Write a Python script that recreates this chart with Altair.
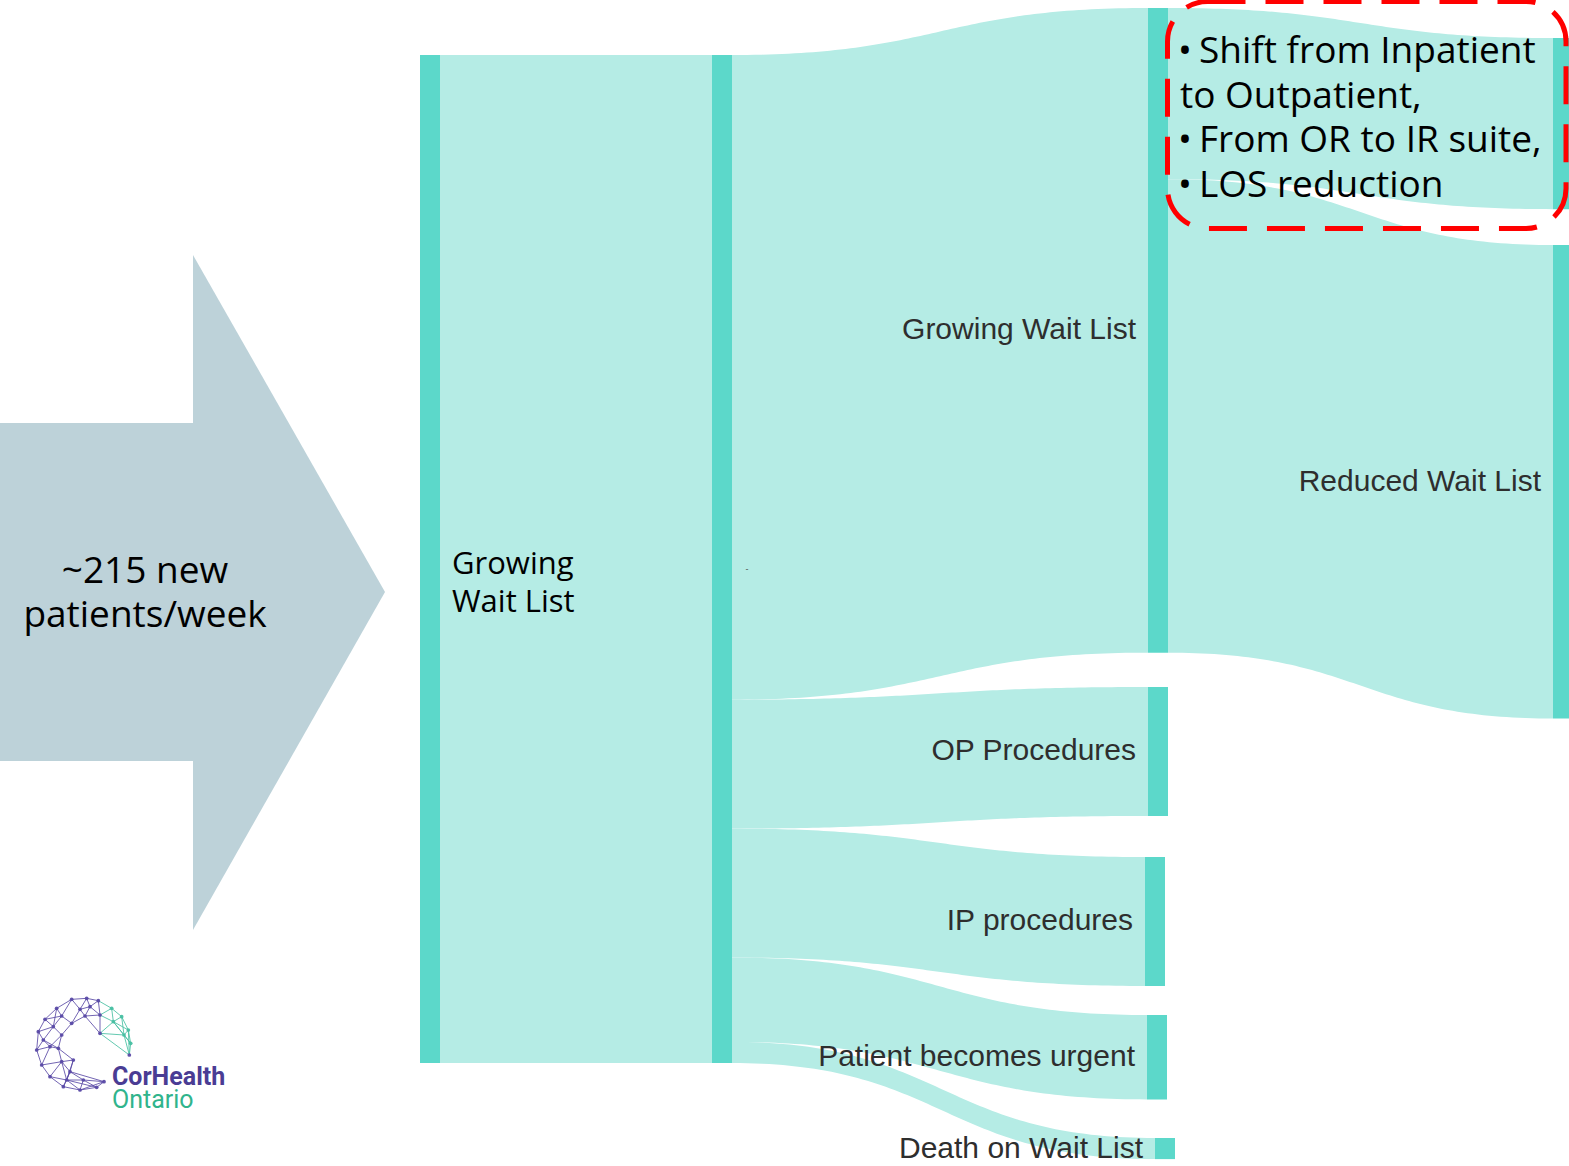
import altair as alt
import numpy as np
import pandas as pd

# ---------------- chart values ----------------
node_labels = ["Growing Wait List", "", "Growing Wait List", "OP Procedures",
               "IP procedures", "Patient becomes urgent", "Death on Wait List",
               "", "Reduced Wait List"]
node_column = [0, 1, 2, 2, 2, 2, 2, 3, 3]

link_source = [0, 1, 1, 1, 1, 1, 2, 2]
link_target = [1, 2, 3, 4, 5, 6, 7, 8]
link_value = [215, 137.5, 27.5, 27.5, 18, 4.5, 36.5, 101]   # patients / week

callout_lines = ["Shift from Inpatient", "to Outpatient,", "From OR to IR suite,", "LOS reduction"]
callout_bullet = [True, False, True, True]
arrow_text = [f"~{link_value[0]:g} new", "patients/week"]
start_label = ["Growing", "Wait List"]
logo_words = ["CorHealth", "Ontario"]

# ---------------- layout & style (pixels) ----------------
W, H = 1569, 1166
PX = 1008 / 215                      # pixels per patient/week (vertical scale)


def py(p):
    return p / PX                    # pixel offset -> vertical scale units


node_left_px = [420, 712, 1148, 1148, 1145, 1147, 1155, 1553, 1553]
node_top_px = [55, 55, 8, 687, 857, 1015, 1138, 38, 245]
NODE_W = 20
LABEL_GAP = 12

NODE_COLOR = "#5CD8CA"
LINK_COLOR = "#B5ECE5"
ARROW_COLOR = "#BDD2D9"
LABEL_COLOR = "#2E2E2E"

arrow_shaft = dict(x=[0, 193], y=[423, 761])
arrow_head = dict(x=[193, 385], top=[255, 592], bottom=[930, 592])

logo_pts_3x = [(215, 58), (260, 55), (295, 62), (335, 85), (365, 110), (385, 150), (392, 190),
               (388, 225), (170, 85), (135, 118), (115, 155), (110, 210), (125, 255),
               (150, 290), (190, 320), (240, 330), (290, 322), (312, 305), (372, 165),
               (340, 125), (300, 105), (255, 108), (215, 130), (185, 165), (175, 205),
               (185, 245), (210, 275), (250, 300), (240, 88), (185, 108), (300, 160),
               (150, 200), (220, 240), (160, 140), (130, 180), (200, 300), (270, 80)]

xs = alt.Scale(domain=[0, W], nice=False, zero=False)
ys = alt.Scale(domain=[0, H / PX], nice=False, zero=False, reverse=True)


def X(f):
    return alt.X(f"{f}:Q", scale=xs, axis=None)


def Y(f):
    return alt.Y(f"{f}:Q", scale=ys, axis=None)


# ---------------- sankey layout ----------------
n = len(node_labels)
node_val = []
for i in range(n):
    vin = sum(v for t, v in zip(link_target, link_value) if t == i)
    vout = sum(v for s, v in zip(link_source, link_value) if s == i)
    node_val.append(max(vin, vout))
node_top = [py(p) for p in node_top_px]

out_off = [0.0] * n
in_off = [0.0] * n
ts = np.linspace(0, 1, 81)
link_rows = []
for k, (s, t, v) in enumerate(zip(link_source, link_target, link_value)):
    x0 = node_left_px[s] + NODE_W
    x1 = node_left_px[t]
    y0 = node_top[s] + out_off[s]
    y1 = node_top[t] + in_off[t]
    out_off[s] += v
    in_off[t] += v
    for tt in ts:
        xx = x0 + (x1 - x0) * (1.5 * tt * (1 - tt) + tt ** 3)
        yy = y0 + (y1 - y0) * (3 * tt ** 2 - 2 * tt ** 3)
        link_rows.append(dict(link=k, x=xx, y=yy, y2=yy + v))
links_df = pd.DataFrame(link_rows)

nodes_df = pd.DataFrame(dict(
    x=node_left_px, x2=[l + NODE_W for l in node_left_px],
    y=node_top, y2=[t + v for t, v in zip(node_top, node_val)],
    label=node_labels, col=node_column))

labels_df = nodes_df[(nodes_df.col >= 2) & (nodes_df.label != "")].copy()
labels_df["lx"] = labels_df.x - LABEL_GAP
labels_df["ly"] = (labels_df.y + labels_df.y2) / 2

# ---------------- layers ----------------
links = alt.Chart(links_df).mark_area(color=LINK_COLOR, clip=True).encode(
    x=X("x"), y=Y("y"), y2="y2", detail="link:N")

nodes = alt.Chart(nodes_df).mark_rect(color=NODE_COLOR, clip=True).encode(
    x=X("x"), x2="x2", y=Y("y"), y2="y2")

labels = alt.Chart(labels_df).mark_text(
    align="right", baseline="middle", font="Liberation Sans", fontSize=30,
    color=LABEL_COLOR).encode(x=X("lx"), y=Y("ly"), text="label:N")

hub_mark = alt.Chart(pd.DataFrame(dict(
    x=[node_left_px[1] + NODE_W + 15],
    y=[node_top[1] + node_val[1] / 2 + py(10)], t=["-"]))).mark_text(
    align="center", baseline="middle", fontSize=9, color="#555555").encode(
    x=X("x"), y=Y("y"), text="t:N")

shaft = alt.Chart(pd.DataFrame(dict(
    x=[arrow_shaft["x"][0]], x2=[arrow_shaft["x"][1]],
    y=[py(arrow_shaft["y"][0])], y2=[py(arrow_shaft["y"][1])]))).mark_rect(
    color=ARROW_COLOR).encode(x=X("x"), x2="x2", y=Y("y"), y2="y2")

head = alt.Chart(pd.DataFrame(dict(
    x=arrow_head["x"], y=[py(v) for v in arrow_head["top"]],
    y2=[py(v) for v in arrow_head["bottom"]]))).mark_area(color=ARROW_COLOR).encode(
    x=X("x"), y=Y("y"), y2="y2")

arrow_txt = alt.Chart(pd.DataFrame(dict(
    x=[145, 145], y=[py(583), py(627)], t=arrow_text))).mark_text(
    align="center", baseline="alphabetic", font="Open Sans", fontSize=37,
    color="#000000").encode(x=X("x"), y=Y("y"), text="t:N")

start_txt = alt.Chart(pd.DataFrame(dict(
    x=[452, 452], y=[py(574), py(612)], t=start_label))).mark_text(
    align="left", baseline="alphabetic", font="Open Sans", fontSize=31,
    color="#000000").encode(x=X("x"), y=Y("y"), text="t:N")

box = alt.Chart(pd.DataFrame(dict(
    x=[1167.5], x2=[1566], y=[py(1.5)], y2=[py(228.5)]))).mark_rect(
    fillOpacity=0, stroke="#FF0000", strokeWidth=5, strokeDash=[38, 20],
    cornerRadius=40).encode(x=X("x"), x2="x2", y=Y("y"), y2="y2")

base_lines = [63, 108, 152, 197]
call_rows = []
for i, (line, b) in enumerate(zip(callout_lines, callout_bullet)):
    call_rows.append(dict(x=1199 if b else 1180, y=py(base_lines[i]), t=line))
    if b:
        call_rows.append(dict(x=1178, y=py(base_lines[i]), t="\u2022"))
callout = alt.Chart(pd.DataFrame(call_rows)).mark_text(
    align="left", baseline="alphabetic", font="Open Sans", fontSize=37,
    color="#000000").encode(x=X("x"), y=Y("y"), text="t:N")

# logo network
pts = np.array([(a / 3.0, b / 3.0 + 980) for a, b in logo_pts_3x])
edges = set()
for i in range(len(pts)):
    d = np.hypot(*(pts - pts[i]).T)
    for j in np.argsort(d)[1:5]:
        edges.add(tuple(sorted((i, int(j)))))
edge_rows = []
for e, (i, j) in enumerate(sorted(edges)):
    mx, my = (pts[i] + pts[j]) / 2
    c = "t" if (mx > 100 and my < 1055) else "p"
    for k in (i, j):
        edge_rows.append(dict(e=e, x=pts[k][0], y=py(pts[k][1]), c=c))
logo_color = alt.Scale(domain=["p", "t"], range=["#5A4AA6", "#48BFA2"])
logo_lines = alt.Chart(pd.DataFrame(edge_rows)).mark_line(strokeWidth=1, opacity=0.85).encode(
    x=X("x"), y=Y("y"), detail="e:N", color=alt.Color("c:N", scale=logo_color, legend=None))
pt_df = pd.DataFrame(dict(x=pts[:, 0], y=[py(v) for v in pts[:, 1]],
                          c=["t" if (a > 100 and b < 1055) else "p" for a, b in pts]))
logo_pts = alt.Chart(pt_df).mark_circle(size=14, opacity=0.95).encode(
    x=X("x"), y=Y("y"), color=alt.Color("c:N", scale=logo_color, legend=None))

logo_t1 = alt.Chart(pd.DataFrame(dict(x=[112], y=[py(1085)], t=[logo_words[0]]))).mark_text(
    align="left", baseline="alphabetic", font="Roboto", fontSize=25, fontWeight="bold",
    color="#4A3C94").encode(x=X("x"), y=Y("y"), text="t:N")
logo_t2 = alt.Chart(pd.DataFrame(dict(x=[112], y=[py(1108)], t=[logo_words[1]]))).mark_text(
    align="left", baseline="alphabetic", font="Roboto", fontSize=25,
    color="#30B48C").encode(x=X("x"), y=Y("y"), text="t:N")

chart = alt.layer(
    shaft, head, links, nodes, labels, hub_mark, start_txt, arrow_txt,
    box, callout, logo_lines, logo_pts, logo_t1, logo_t2
).properties(
    width=W, height=H, padding=0, background="white",
    autosize=alt.AutoSizeParams(type="none")
).configure_view(strokeWidth=0)

chart.save("out.html", embed_options={"renderer": "svg", "actions": False})
